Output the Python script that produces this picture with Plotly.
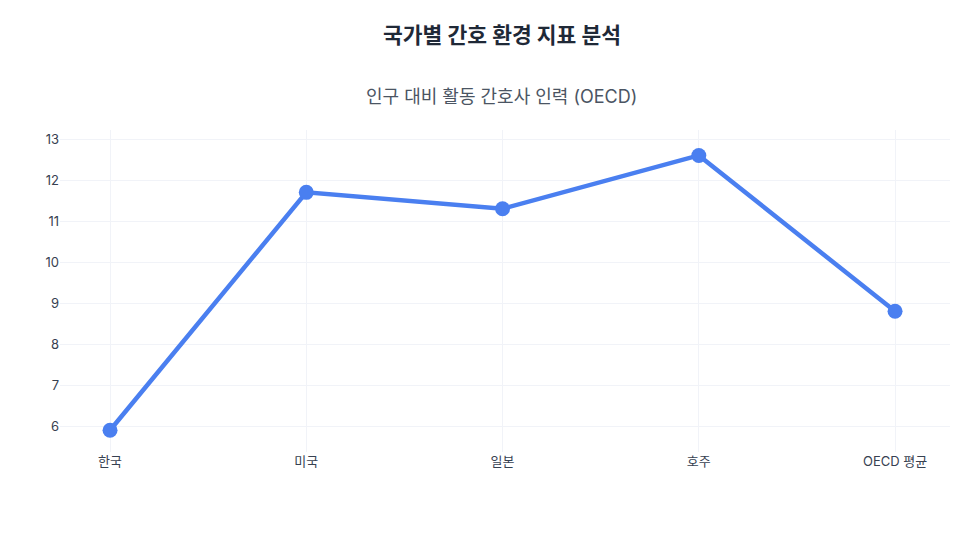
import plotly.graph_objects as go

# 데이터
countries = ['한국', '미국', '일본', '호주', 'OECD 평균']
nurses_per_1000 = [5.9, 11.7, 11.3, 12.6, 8.8]
y_ticks = [6, 7, 8, 9, 10, 11, 12, 13]

FONT = 'Inter, Noto Sans CJK KR, sans-serif'
LINE_COLOR = '#4a7ff0'

fig = go.Figure()
fig.add_trace(go.Scatter(
    x=countries,
    y=nurses_per_1000,
    mode='lines+markers',
    line=dict(color=LINE_COLOR, width=4.5),
    marker=dict(color=LINE_COLOR, size=15),
    hovertemplate='%{x}: %{y}<extra></extra>',
))

fig.update_layout(
    width=975, height=537,
    paper_bgcolor='white',
    plot_bgcolor='white',
    font=dict(family=FONT, color='#4b5563', size=13),
    title=dict(text='<b>국가별 간호 환경 지표 분석</b>',
               x=0.5067, xanchor='center', y=0.948, yanchor='middle',
               font=dict(size=21.5, color='#1f2937', family=FONT)),
    margin=dict(l=52, r=33, t=122, b=93),
    showlegend=False,
    annotations=[dict(
        text='인구 대비 활동 간호사 인력 (OECD)',
        xref='paper', yref='paper', x=0.496, y=1.0, yshift=34,
        xanchor='center', yanchor='middle', showarrow=False,
        font=dict(size=18, color='#4b5563', family=FONT),
    )],
    xaxis=dict(
        type='category',
        range=[-0.255, 4.28],
        showgrid=True, gridcolor='#f1f3f8',
        showline=False, zeroline=False,
        ticks='', tickfont=dict(size=13, color='#374151'),
    ),
    yaxis=dict(
        range=[5.37, 13.22],
        tickvals=y_ticks,
        showgrid=True, gridcolor='#f1f3f8',
        showline=False, zeroline=False,
        ticks='', tickfont=dict(size=13, color='#374151'),
    ),
)

fig.write_html('out.html')
